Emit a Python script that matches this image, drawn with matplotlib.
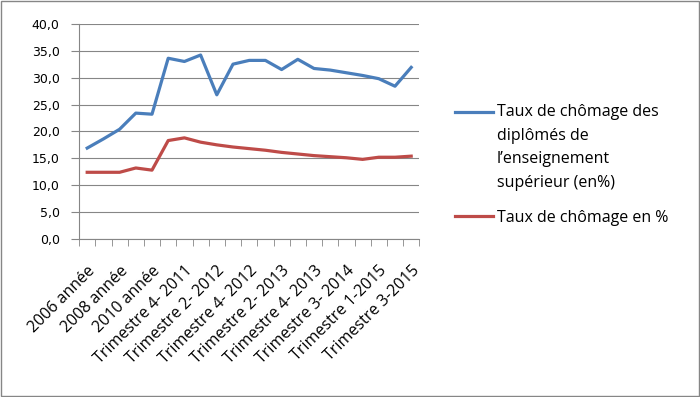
import matplotlib
matplotlib.use("Agg")
import matplotlib.pyplot as plt
from matplotlib.lines import Line2D
from matplotlib.patches import Rectangle
import numpy as np

categories = ["2006 année", "2007 année", "2008 année", "2009 année", "2010 année",
              "Trimestre 3- 2011", "Trimestre 4- 2011", "Trimestre 1- 2012", "Trimestre 2- 2012",
              "Trimestre 3- 2012", "Trimestre 4- 2012", "Trimestre 1- 2013", "Trimestre 2- 2013",
              "Trimestre 3- 2013", "Trimestre 4- 2013", "Trimestre 2- 2014", "Trimestre 3- 2014",
              "Trimestre 4- 2014", "Trimestre 1-2015", "Trimestre 2-2015", "Trimestre 3-2015"]
diplomes = [16.9, 18.6, 20.4, 23.4, 23.2, 33.6, 33.0, 34.2, 26.8, 32.5, 33.2,
            33.2, 31.5, 33.4, 31.7, 31.4, 30.9, 30.4, 29.8, 28.4, 31.9]
total = [12.4, 12.4, 12.4, 13.2, 12.8, 18.3, 18.8, 18.0, 17.5, 17.1, 16.8,
         16.5, 16.1, 15.8, 15.5, 15.3, 15.1, 14.8, 15.2, 15.2, 15.4]
legend_labels = ["Taux de chômage des\ndiplômés de\nl\u2019enseignement\nsupérieur (en%)",
                 "Taux de chômage en %"]

blue = "#4A7EBB"
red = "#BE4B48"
plt.rcParams['font.family'] = ['Open Sans', 'DejaVu Sans']

fig = plt.figure(figsize=(7, 3.97), dpi=100)
ax = fig.add_axes([0.113, 0.398, 0.486, 0.542])

x = np.arange(len(categories))
ax.plot(x, diplomes, color=blue, lw=2.3, solid_joinstyle='round', zorder=3)
ax.plot(x, total, color=red, lw=2.3, solid_joinstyle='round', zorder=3)

ax.set_xlim(-0.5, len(categories) - 0.5)
ax.set_ylim(0, 40)
ax.set_yticks(np.arange(0, 41, 5))
ax.set_yticklabels([f"{v:.1f}".replace(".", ",") for v in np.arange(0, 41, 5)],
                   fontsize=9, family='DejaVu Sans')
ax.yaxis.grid(True, color="#868686", lw=0.8)
ax.set_axisbelow(True)

ax.set_xticks(x[::2])
ax.set_xticklabels(categories[::2], rotation=45, ha='right', rotation_mode='anchor', fontsize=11.5)
ax.set_xticks(np.arange(-0.5, len(categories)), minor=True)
ax.tick_params(axis='x', which='major', length=0, pad=17)
ax.tick_params(axis='x', which='minor', length=5, color="#868686", direction='out')
ax.tick_params(axis='y', length=6, color="#868686", direction='out', pad=8)

for s in ['top', 'right']:
    ax.spines[s].set_visible(False)
ax.spines['left'].set_color("#868686")
ax.spines['bottom'].set_color("#868686")

# legend drawn by hand
fig.add_artist(Line2D([0.650, 0.704], [0.718, 0.718], color=blue, lw=2.3))
fig.text(0.710, 0.737, legend_labels[0], fontsize=11.5, va='top', ha='left', linespacing=1.62)
fig.add_artist(Line2D([0.650, 0.704], [0.456, 0.456], color=red, lw=2.3))
fig.text(0.710, 0.452, legend_labels[1], fontsize=11.5, va='center', ha='left')

fig.add_artist(Rectangle((0.002, 0.003), 0.996, 0.994, transform=fig.transFigure,
                         fill=False, edgecolor="#868686", lw=1))

fig.savefig("out.png", dpi=100)
